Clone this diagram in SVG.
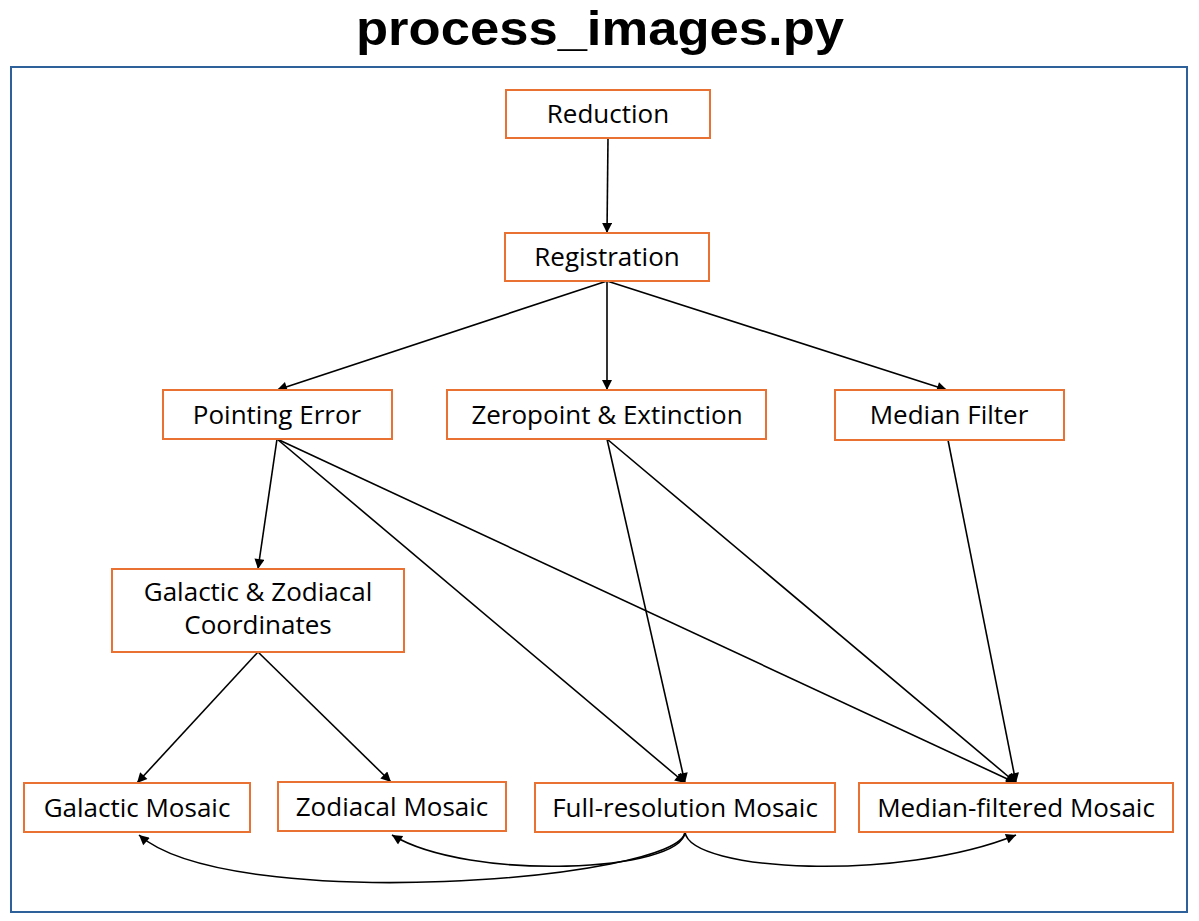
<svg xmlns="http://www.w3.org/2000/svg" width="1199" height="921" viewBox="0 0 1199 921">
<style>
.node rect{fill:#fff;stroke:#E97132;stroke-width:2}
.node text{font-family:"Open Sans","Liberation Sans",sans-serif;font-size:26px;fill:#000;text-anchor:middle}
.edge{fill:none;stroke:#000;stroke-width:1.6;marker-end:url(#ah)}
</style>
<defs>
<marker id="ah" viewBox="0 0 10 10" refX="10" refY="5" markerWidth="12" markerHeight="10" markerUnits="userSpaceOnUse" orient="auto">
<path d="M0,0 L10,5 L0,10 z" fill="#000"/>
</marker>
</defs>
<rect x="0" y="0" width="1199" height="921" fill="#fff"/>
<text x="600" y="45" font-family="Liberation Sans,Arial,sans-serif" font-weight="bold" font-size="48" text-anchor="middle" textLength="488" lengthAdjust="spacingAndGlyphs">process_images.py</text>
<rect x="11" y="67" width="1176" height="845" fill="none" stroke="#2E6099" stroke-width="2"/>
<g id="connectors">
<path class="edge" d="M608,138 L607,233"/>
<path class="edge" d="M607,281 L277,390"/>
<path class="edge" d="M607,281 L607,390"/>
<path class="edge" d="M607,281 L947,390"/>
<path class="edge" d="M277,439 L258,569"/>
<path class="edge" d="M277,439 L685,783"/>
<path class="edge" d="M277,439 L1016,783"/>
<path class="edge" d="M607,439 L685,783"/>
<path class="edge" d="M607,439 L1016,783"/>
<path class="edge" d="M948,440 L1016,783"/>
<path class="edge" d="M258,652 L137,783"/>
<path class="edge" d="M258,652 L391,782"/>
<path class="edge" d="M685,832 C680,880 230,915 139,835"/>
<path class="edge" d="M685,832 C682,872 470,882 392,835"/>
<path class="edge" d="M685,832 C690,872 900,882 1016,835"/>
</g>
<g id="reduction" class="node"><rect x="506" y="90" width="204" height="48"/><text x="608" y="123">Reduction</text></g>
<g id="registration" class="node"><rect x="505" y="233" width="204" height="48"/><text x="607" y="266">Registration</text></g>
<g id="pointing" class="node"><rect x="163" y="390" width="229" height="49"/><text x="277" y="424">Pointing Error</text></g>
<g id="zeropoint" class="node"><rect x="447" y="390" width="319" height="49"/><text x="607" y="424">Zeropoint &amp; Extinction</text></g>
<g id="median" class="node"><rect x="835" y="390" width="229" height="50"/><text x="949" y="424">Median Filter</text></g>
<g id="coords" class="node"><rect x="112" y="569" width="292" height="83"/><text x="258" y="601">Galactic &amp; Zodiacal</text><text x="258" y="634">Coordinates</text></g>
<g id="galactic" class="node"><rect x="24" y="783" width="226" height="49"/><text x="137" y="817">Galactic Mosaic</text></g>
<g id="zodiacal" class="node"><rect x="278" y="782" width="228" height="49"/><text x="392" y="816">Zodiacal Mosaic</text></g>
<g id="fullres" class="node"><rect x="535" y="783" width="300" height="49"/><text x="685" y="817">Full-resolution Mosaic</text></g>
<g id="medfilt" class="node"><rect x="859" y="783" width="314" height="49"/><text x="1016" y="817">Median-filtered Mosaic</text></g>
</svg>
